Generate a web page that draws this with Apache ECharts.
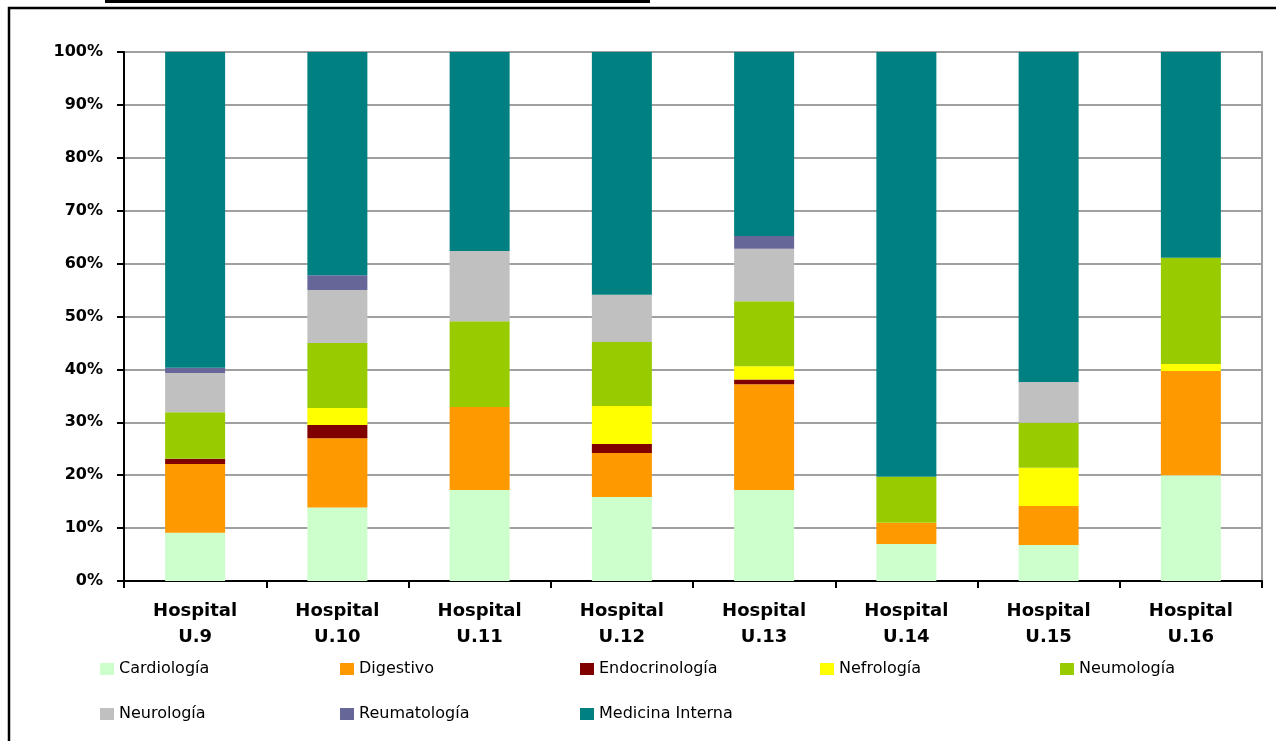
<!DOCTYPE html>
<html>
<head>
<meta charset="utf-8">
<style>
  html, body { margin: 0; padding: 0; background: #ffffff; }
  #chart { width: 1276px; height: 741px; }
</style>
<script src="https://cdn.jsdelivr.net/npm/echarts@6/dist/echarts.min.js"></script>
</head>
<body>
<div id="chart"></div>
<script>
// ---- Data (percent of each hospital's total) ----
const categories = ['Hospital\nU.9', 'Hospital\nU.10', 'Hospital\nU.11', 'Hospital\nU.12',
                    'Hospital\nU.13', 'Hospital\nU.14', 'Hospital\nU.15', 'Hospital\nU.16'];
const yTicks = [0, 10, 20, 30, 40, 50, 60, 70, 80, 90, 100];

const cardiologia     = [9.1, 13.9, 17.2, 15.9, 17.2, 7.0, 6.8, 20.0];
const digestivo       = [13.0, 13.1, 15.7, 8.3, 20.0, 4.0, 7.4, 19.7];
const endocrinologia  = [1.0, 2.5, 0, 1.7, 0.9, 0, 0, 0];
const nefrologia      = [0, 3.2, 0, 7.2, 2.5, 0, 7.2, 1.3];
const neumologia      = [8.8, 12.3, 16.2, 12.1, 12.3, 8.7, 8.5, 20.1];
const neurologia      = [7.4, 10.0, 13.3, 8.9, 9.9, 0, 7.7, 0];
const reumatologia    = [1.0, 2.8, 0, 0, 2.4, 0, 0, 0];
const medicinaInterna = [59.7, 42.2, 37.6, 45.9, 34.8, 80.3, 62.4, 38.9];

const seriesDefs = [
  { name: 'Cardiología',      data: cardiologia,     color: '#CCFFCC' },
  { name: 'Digestivo',        data: digestivo,       color: '#FF9900' },
  { name: 'Endocrinología',   data: endocrinologia,  color: '#800000' },
  { name: 'Nefrología',       data: nefrologia,      color: '#FFFF00' },
  { name: 'Neumología',       data: neumologia,      color: '#99CC00' },
  { name: 'Neurología',       data: neurologia,      color: '#C0C0C0' },
  { name: 'Reumatología',     data: reumatologia,    color: '#666699' },
  { name: 'Medicina Interna', data: medicinaInterna, color: '#008080' }
];

const chart = echarts.init(document.getElementById('chart'), null, { renderer: 'canvas' });

const legendCommon = {
  orient: 'horizontal',
  left: 100,
  padding: 0,
  itemWidth: 14,
  itemHeight: 12,
  itemGap: 71,
  icon: 'rect',
  width: 1250,
  selectedMode: false,
  textStyle: {
    fontFamily: 'DejaVu Sans',
    fontSize: 16,
    color: '#000000',
    width: 150,
    lineHeight: 20,
    overflow: 'none'
  }
};

const option = {
  animation: false,
  backgroundColor: '#ffffff',
  grid: {
    left: 124, right: 14, top: 52, bottom: 160,
    show: true, borderColor: '#a0a0a0', borderWidth: 2, backgroundColor: 'transparent'
  },
  legend: [
    Object.assign({}, legendCommon, { top: 659, data: seriesDefs.slice(0, 5).map(s => s.name) }),
    Object.assign({}, legendCommon, { top: 704, data: seriesDefs.slice(5).map(s => s.name) })
  ],
  xAxis: {
    type: 'category',
    data: categories,
    boundaryGap: true,
    axisLine: { show: true, lineStyle: { color: '#000000', width: 2 } },
    axisTick: { show: true, length: 7, lineStyle: { color: '#000000', width: 2 } },
    axisLabel: {
      interval: 0,
      margin: 17,
      color: '#000000',
      fontFamily: 'DejaVu Sans',
      fontWeight: 'bold',
      fontSize: 18,
      lineHeight: 26
    },
    splitLine: { show: false }
  },
  yAxis: {
    type: 'value',
    min: yTicks[0],
    max: yTicks[yTicks.length - 1],
    interval: 10,
    axisLine: { show: true, lineStyle: { color: '#000000', width: 2 } },
    axisTick: { show: true, length: 7, lineStyle: { color: '#000000', width: 2 } },
    axisLabel: {
      margin: 21,
      color: '#000000',
      fontFamily: 'DejaVu Sans',
      fontWeight: 'bold',
      fontSize: 16,
      formatter: '{value}%'
    },
    splitLine: { show: true, lineStyle: { color: '#a0a0a0', width: 2 } }
  },
  series: seriesDefs.map(s => ({
    name: s.name,
    type: 'bar',
    stack: 'total',
    barWidth: 60,
    data: s.data,
    itemStyle: { color: s.color },
    emphasis: { disabled: true }
  })),
  graphic: [
    { type: 'rect', shape: { x: 9, y: 8, width: 1320, height: 800 },
      style: { fill: 'none', stroke: '#000000', lineWidth: 2.5 }, silent: true, z: 100 },
    { type: 'rect', shape: { x: 105, y: 0, width: 545, height: 3 },
      style: { fill: '#000000' }, silent: true, z: 100 }
  ]
};

chart.setOption(option);
</script>
</body>
</html>
